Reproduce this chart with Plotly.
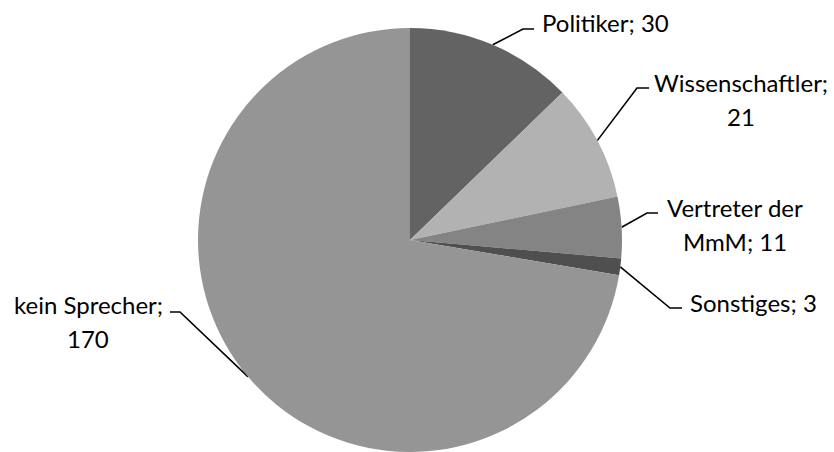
import math
import textwrap
import plotly.graph_objects as go

# Sprecher-Kategorien und Anzahl der Nennungen
categories = ["Politiker", "Wissenschaftler", "Vertreter der MmM", "Sonstiges", "kein Sprecher"]
counts = [30, 21, 11, 3, 170]
colors = ["#636363", "#b2b2b2", "#848484", "#4f4f4f", "#959595"]

# label layout: wrap width (chars), block centre x, first-line centre y, elbow point, tick end x
wrap_widths = [20, 16, 13, 20, 14]
label_pos = [(605, 22), (741, 82), (735, 207), (753, 302), (88, 304)]
elbows = [(523, 29), (637, 88), (647, 213), (670, 308), (180, 312)]
tick_ends = [534, 649, 658, 682, 170]

W, H = 834, 452
CX, R = 410, 212
CY = H - R
FONT = "Lato"
FS = 24
LINE_GAP = 34

fig = go.Figure()
fig.add_trace(go.Pie(
    labels=categories,
    values=counts,
    sort=False,
    direction="clockwise",
    rotation=0,
    marker=dict(colors=colors, line=dict(width=0)),
    textinfo="none",
    hoverinfo="label+value",
    showlegend=False,
    domain=dict(x=[(CX - R) / W, (CX + R) / W], y=[0, 2 * R / H]),
))

total = sum(counts)
cum = 0
annotations = []
for name, val, wrap, (lx, ly), (ex, ey), tx in zip(
        categories, counts, wrap_widths, label_pos, elbows, tick_ends):
    mid = (cum + val / 2) / total * 2 * math.pi
    cum += val
    px = CX + R * math.sin(mid)
    py = CY - R * math.cos(mid)
    fig.add_trace(go.Scatter(
        x=[px, ex, tx], y=[py, ey, ey], mode="lines",
        line=dict(color="black", width=1.6),
        hoverinfo="skip", showlegend=False,
    ))
    for i, line in enumerate(textwrap.wrap(f"{name}; {val}", wrap)):
        annotations.append(dict(
            x=lx, y=ly + i * LINE_GAP, xref="x", yref="y",
            text=line, showarrow=False, xanchor="center", yanchor="middle",
            font=dict(family=FONT, size=FS, color="black"),
        ))

fig.update_layout(
    width=W, height=H,
    margin=dict(l=0, r=0, t=0, b=0),
    paper_bgcolor="white", plot_bgcolor="rgba(0,0,0,0)",
    xaxis=dict(range=[0, W], visible=False, fixedrange=True),
    yaxis=dict(range=[H, 0], visible=False, fixedrange=True),
    annotations=annotations,
)

fig.write_html("out.html")
